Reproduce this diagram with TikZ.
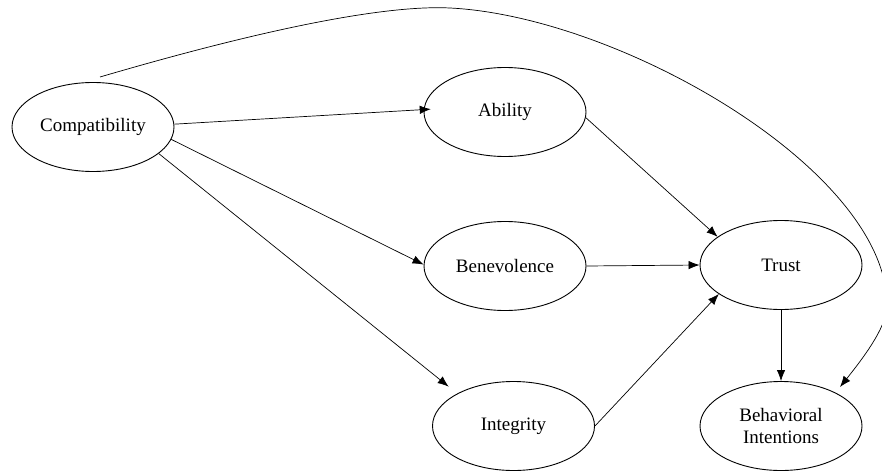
\documentclass[tikz,border=0pt]{standalone}
\usepackage{fontspec}
\setmainfont{Liberation Serif}
\usetikzlibrary{shapes.geometric,arrows.meta}
\tikzset{
  construct/.style={draw, ellipse, line width=0.9pt, minimum width=162pt, minimum height=89pt, inner sep=0pt, align=center, font=\fontsize{19}{22}\selectfont},
  link/.style={line width=0.7pt, -{Latex[length=11pt,width=8.5pt]}},
}
\begin{document}
\begin{tikzpicture}[x=1pt,y=-1pt]
\useasboundingbox (0,0) rectangle (882,473);
\node[construct] (comp) at (93,127) {Compatibility};
\node[construct] (abil) at (505,112) {Ability};
\node[construct] (bene) at (505,266) {Benevolence};
\node[construct] (integ) at (513.5,426) {Integrity};
\node[construct] (trust) at (781,265) {Trust};
\node[construct] (beh) at (781,426) {Behavioral\\Intentions};
\coordinate (cs) at (100,77);
\coordinate (ce) at (840,387);

\draw[link] (comp.2) -- ([xshift=7pt]abil.178);
\draw[link] (comp.-9) -- (bene.179);
\draw[link, shorten >=11pt] (comp.-22) -- (integ.150);
\draw[link] (abil.-4) -- (trust.156);
\draw[link] (bene.east) -- (trust.west);
\draw[link] (integ.east) -- (trust.205);
\draw[link] (trust.south) -- (beh.north);

\draw[link] (cs) .. controls (250,33) and (380,4.5) .. (450,8)
  .. controls (620,16.5) and (887,170) .. (887,305)
  .. controls (887,325) and (868,352) .. (ce);
\end{tikzpicture}
\end{document}
